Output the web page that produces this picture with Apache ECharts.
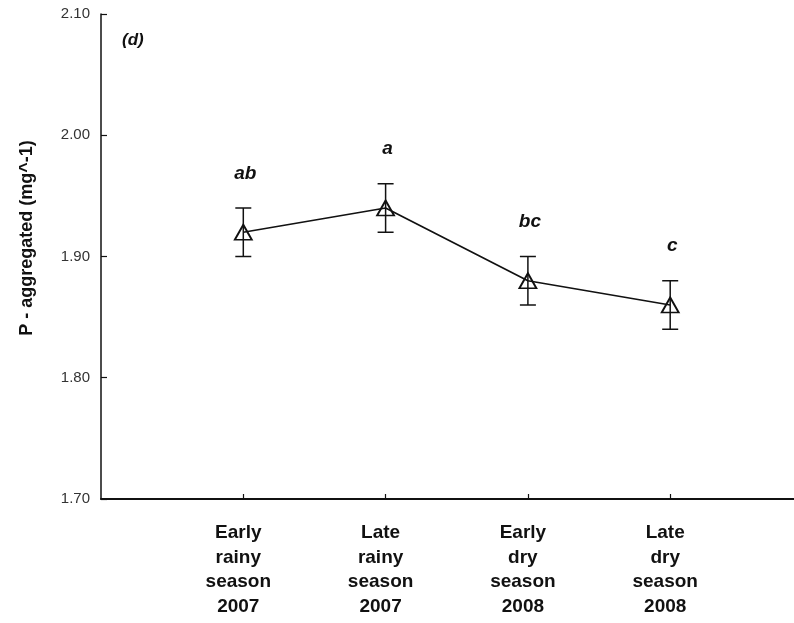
<!DOCTYPE html>
<html>
<head>
<meta charset="utf-8">
<style>
  html, body { margin: 0; padding: 0; background: #fff; }
  #chart { width: 794px; height: 623px; }
</style>
<script src="https://cdn.jsdelivr.net/npm/echarts@6/dist/echarts.min.js"></script>
</head>
<body>
<div id="chart"></div>
<script>
// Sampling periods (x positions 1..4 on the value axis)
const categories = [
  'Early\nrainy\nseason\n2007',
  'Late\nrainy\nseason\n2007',
  'Early\ndry\nseason\n2008',
  'Late\ndry\nseason\n2008'
];
const positions = [1, 2, 3, 4];
// Mean P-aggregated and its error
const means = [1.92, 1.94, 1.88, 1.86];
const errors = [0.02, 0.02, 0.02, 0.02];
// Significance letters
const letters = ['ab', 'a', 'bc', 'c'];
// Y axis range
const yMin = 1.7, yMax = 2.1, yStep = 0.1;

const FONT = 'Liberation Sans, Arial, sans-serif';

const lineData = positions.map((x, i) => [x, means[i]]);
const errData = positions.map((x, i) => [x, means[i] - errors[i], means[i] + errors[i], i]);

const chart = echarts.init(document.getElementById('chart'), null, { renderer: 'canvas' });

chart.setOption({
  animation: false,
  backgroundColor: '#fff',
  grid: { left: 101, right: 0, top: 14, bottom: 124, containLabel: false },
  xAxis: {
    type: 'value',
    min: 0,
    max: 4.87,
    interval: 1,
    splitLine: { show: false },
    axisLine: { show: true, onZero: false, lineStyle: { color: '#111', width: 2 } },
    axisTick: { show: true, inside: true, length: 5, customValues: positions,
                lineStyle: { color: '#111', width: 1.2 } },
    axisLabel: {
      customValues: positions,
      formatter: v => categories[positions.indexOf(Math.round(v))] || '',
      color: '#111',
      fontFamily: FONT,
      fontWeight: 'bold',
      fontSize: 19,
      lineHeight: 24.5,
      margin: 22,
      align: 'center',
      padding: [0, 10, 0, 0]
    }
  },
  yAxis: {
    type: 'value',
    min: yMin,
    max: yMax,
    interval: yStep,
    splitLine: { show: false },
    axisLine: { show: true, lineStyle: { color: '#111', width: 1.5 } },
    axisTick: { show: true, inside: true, length: 6, lineStyle: { color: '#111', width: 1.2 } },
    axisLabel: {
      formatter: v => v.toFixed(2),
      color: '#333',
      fontFamily: FONT,
      fontSize: 15,
      margin: 11
    }
  },
  graphic: [
    {
      type: 'text',
      x: 27, y: 238,
      rotation: Math.PI / 2,
      style: {
        text: 'P - aggregated (mg^-1)',
        fill: '#111',
        font: 'bold 18px ' + FONT,
        align: 'center',
        verticalAlign: 'middle'
      }
    },
    {
      type: 'text',
      left: 122, top: 32,
      style: {
        text: '(d)',
        fill: '#111',
        font: 'italic bold 17px ' + FONT
      }
    }
  ],
  series: [
    {
      type: 'line',
      data: lineData,
      symbol: 'triangle',
      symbolSize: [17, 15],
      lineStyle: { color: '#111', width: 1.7 },
      itemStyle: { color: 'rgba(255,255,255,0)', borderColor: '#111', borderWidth: 1.8 },
      z: 2
    },
    {
      type: 'custom',
      data: errData,
      z: 3,
      renderItem: function (params, api) {
        const x = api.value(0);
        const lo = api.coord([x, api.value(1)]);
        const hi = api.coord([x, api.value(2)]);
        const idx = api.value(3);
        const half = 8;
        const st = { stroke: '#111', lineWidth: 1.5 };
        return {
          type: 'group',
          children: [
            { type: 'line', shape: { x1: lo[0], y1: lo[1], x2: hi[0], y2: hi[1] }, style: st },
            { type: 'line', shape: { x1: hi[0] - half, y1: hi[1], x2: hi[0] + half, y2: hi[1] }, style: st },
            { type: 'line', shape: { x1: lo[0] - half, y1: lo[1], x2: lo[0] + half, y2: lo[1] }, style: st },
            {
              type: 'text',
              x: hi[0] + 2,
              y: hi[1] - 25,
              style: {
                text: letters[idx],
                fill: '#111',
                font: 'italic bold 19px ' + FONT,
                align: 'center',
                verticalAlign: 'bottom'
              }
            }
          ]
        };
      }
    }
  ]
});
</script>
</body>
</html>
